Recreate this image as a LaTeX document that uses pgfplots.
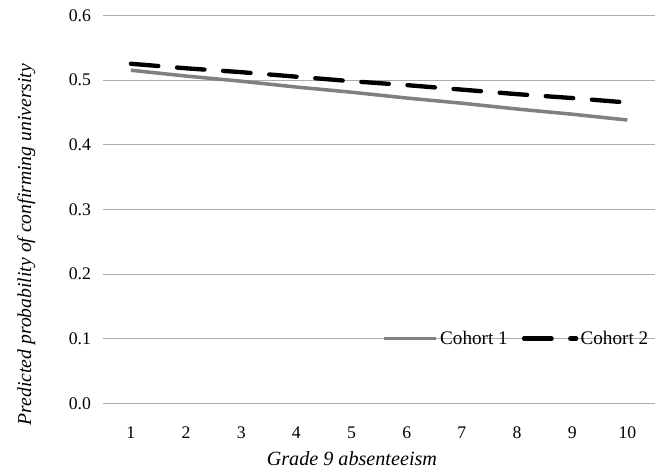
\documentclass[border=0pt]{standalone}
\usepackage{pgfplots}
\pgfplotsset{compat=1.18}
\usepackage{fontspec}
\setmainfont{Liberation Serif}
\definecolor{cgray}{RGB}{128,128,128}
\definecolor{ggray}{RGB}{172,172,172}
\begin{document}
\begin{tikzpicture}
\begin{axis}[
  scale only axis,
  width=560.8pt, height=394.5pt,
  xmin=0.5, xmax=10.5,
  ymin=0, ymax=0.6,
  xtick={1,...,10},
  ytick={0,0.1,...,0.6},
  ymajorgrids,
  grid style={ggray, line width=0.8pt},
  axis line style={draw=none},
  major tick style={draw=none},
  font=\fontsize{18}{20}\selectfont,
  /pgf/number format/assume math mode=true,
  yticklabel style={/pgf/number format/fixed, /pgf/number format/fixed zerofill, /pgf/number format/precision=1, xshift=-9pt},
  xticklabel style={yshift=-20pt},
  xlabel={\textit{Grade 9 absenteeism}},
  ylabel={\textit{Predicted probability of confirming university}},
  xlabel style={font=\fontsize{20.5}{22}\selectfont, at={(axis description cs:0.4506,0)}, anchor=base, yshift=-63pt},
  ylabel style={font=\fontsize{20}{22}\selectfont, at={([xshift=-73.3pt]axis description cs:0,0.409)}, anchor=base},
  legend style={at={(axis cs:5.58,0.1)}, anchor=west, draw=none, fill=none,
    inner sep=0pt, outer sep=0pt,
    font=\fontsize{19.5}{22}\selectfont, legend columns=2,
    nodes={inner sep=1.5pt},
    column sep=0pt,
    /tikz/every even column/.append style={column sep=15pt}},
  legend cell align=left,
  legend image code/.code={%
    \pgfpathrectangle{\pgfpoint{0pt}{-2pt}}{\pgfpoint{56pt}{4pt}}\pgfusepath{use as bounding box}%
    \draw[#1] (0pt,0pt) -- (53pt,0pt);},
]
\addplot[cgray, line width=3.6pt] coordinates {
 (1,0.515) (2,0.506) (3,0.498) (4,0.489) (5,0.481) (6,0.472) (7,0.464) (8,0.455) (9,0.447) (10,0.438)};
\addlegendentry{Cohort 1}
\addplot[black, line width=4.4pt, line cap=round, dash pattern=on 28pt off 19pt] coordinates {
 (1,0.525) (2,0.518) (3,0.512) (4,0.505) (5,0.498) (6,0.492) (7,0.485) (8,0.478) (9,0.472) (10,0.465)};
\addlegendentry{Cohort 2}
\end{axis}
\pgfresetboundingbox
\path (current axis.south west) ++(-105pt,-68pt) coordinate (a);
\path (current axis.north east) ++(-10.8pt,15.5pt) coordinate (b);
\path[use as bounding box] (a) rectangle (b);
\end{tikzpicture}
\end{document}
